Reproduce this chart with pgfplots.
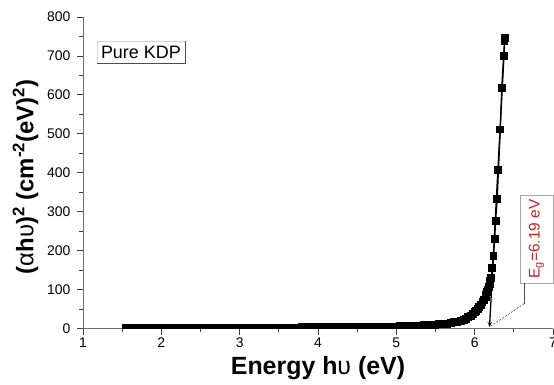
\documentclass[border=0pt]{standalone}
\usepackage{fontspec}
\setmainfont{Liberation Sans}
\usepackage{pgfplots}
\pgfplotsset{compat=1.18}
\usetikzlibrary{arrows.meta}
\definecolor{axisgray}{RGB}{110,110,110}
\definecolor{egred}{RGB}{200,35,35}

\begin{document}
\begin{tikzpicture}
\begin{axis}[
  scale only axis, width=470bp, height=311.5bp,
  xmin=1, xmax=7, ymin=0, ymax=800,
  axis lines*=left,
  axis line style={axisgray, line width=0.9bp},
  xtick={1,2,...,7}, ytick={0,100,...,800},
  minor x tick num=1, minor y tick num=1,
  tick align=outside,
  major tick length=6bp, minor tick length=3.5bp,
  tick style={black!75, line width=0.8bp},
  /pgf/number format/assume math mode=true,
  ticklabel style={font=\fontsize{14}{16}\selectfont},
  yticklabel style={xshift=-3bp},
  xlabel={\textbf{Energy h}\textnormal{υ}\textbf{ (eV)}},
  x label style={at={(axis description cs:0.5,-0.1268)}, anchor=center,
                 font=\fontsize{25}{27}\selectfont},
  ylabel={\textbf{(}\textnormal{α}\textbf{h}\textnormal{υ}\textbf{)\textsuperscript{2} (cm\textsuperscript{-2}(eV)\textsuperscript{2})}},
  y label style={at={(axis description cs:-0.1223,0.487)}, anchor=center,
                 font=\fontsize{24}{26}\selectfont},
  clip marker paths=true,
]
% absorption data: (alpha h nu)^2 against photon energy
\addplot[black, line width=1.3bp, mark=square*, mark size=3.3bp, mark options={solid}]
coordinates {
(1.55,0.3) (1.60,0.3) (1.65,0.3) (1.70,0.3) (1.75,0.3) (1.80,0.3) (1.85,0.3) (1.90,0.3)
(1.95,0.3) (2.00,0.3) (2.05,0.3) (2.10,0.3) (2.15,0.3) (2.20,0.3) (2.25,0.3) (2.30,0.3)
(2.35,0.3) (2.40,0.3) (2.45,0.3) (2.50,0.4) (2.55,0.4) (2.60,0.4) (2.65,0.4) (2.70,0.4)
(2.75,0.4) (2.80,0.4) (2.85,0.4) (2.90,0.5) (2.95,0.5) (3.00,0.5) (3.05,0.5) (3.10,0.5)
(3.15,0.6) (3.20,0.6) (3.25,0.6) (3.30,0.6) (3.35,0.7) (3.40,0.7) (3.45,0.8) (3.50,2.4)
(3.55,2.4) (3.60,2.5) (3.65,2.5) (3.70,2.6) (3.75,2.6) (3.80,2.7) (3.85,2.7) (3.90,2.8)
(3.95,2.9) (4.00,3.0) (4.05,3.0) (4.10,3.1) (4.15,3.2) (4.20,3.2) (4.25,3.3) (4.30,3.4)
(4.35,3.5) (4.40,3.6) (4.45,3.7) (4.50,3.8) (4.55,3.9) (4.60,4.0) (4.65,4.1) (4.70,4.3)
(4.75,4.4) (4.80,4.5) (4.85,4.6) (4.90,4.8) (4.95,4.9)
(5.00,5.0) (5.05,5.4) (5.10,5.8) (5.15,6.2) (5.20,6.6) (5.25,7.0) (5.30,7.5) (5.35,8.0)
(5.40,8.5) (5.45,9.1) (5.50,9.8) (5.55,10.6) (5.60,11.5) (5.65,12.7) (5.70,14.2)
(5.74,15.6) (5.78,17.4) (5.82,19.6) (5.86,22.5) (5.89,25.3) (5.92,28.6) (5.95,32.5)
(5.98,37.5) (6.00,41.5) (6.02,45.5) (6.04,50.0) (6.06,55.5) (6.08,61.5) (6.10,67.5)
(6.12,74.0) (6.14,82.0) (6.15,87.0) (6.16,93.0) (6.17,100) (6.18,107) (6.19,114)
(6.20,122) (6.21,130)
(6.226,156) (6.241,187) (6.255,229) (6.267,277) (6.288,333) (6.303,406)
(6.327,511) (6.346,618) (6.370,700) (6.381,738) (6.386,745)
};
% linear fit extrapolated to the energy axis
\addplot[black, line width=1.3bp, -{Stealth[length=5bp,width=4.5bp]}]
coordinates {(6.386,745) (6.19,4)};
\coordinate (kdp) at (axis cs:1.739,709);
\coordinate (egc) at (axis cs:6.79,230);
\coordinate (l1) at (axis cs:6.632,117);
\coordinate (l2) at (axis cs:6.632,64);
\coordinate (l3) at (axis cs:6.205,6);
\end{axis}
\node[fill=white, draw=gray!35, line width=0.6bp, inner sep=1bp,
      minimum width=88bp, minimum height=21.6bp,
      font=\fontsize{18}{20}\selectfont] (kdpbox) at (kdp) {Pure KDP};
\draw[gray!60!black, line width=1.2bp]
  (kdpbox.north east) -- (kdpbox.south east) -- (kdpbox.south west);
\node[rotate=90, fill=white, draw=gray!70, line width=0.8bp, inner sep=1bp,
      minimum width=88bp, minimum height=33bp, text=egred,
      font=\fontsize{15.5}{17}\selectfont] at (egc) {E\textsubscript{g}=6.19 eV};
\draw[gray!60!black, line width=0.7bp] (l1) -- (l2);
\draw[gray!60!black, line width=0.6bp, dash pattern=on 2bp off 1.5bp] (l2) -- (l3);
\pgfresetboundingbox
\path[use as bounding box] (-83bp,-56.5bp) rectangle (471bp,328.5bp);
\end{tikzpicture}
\end{document}
